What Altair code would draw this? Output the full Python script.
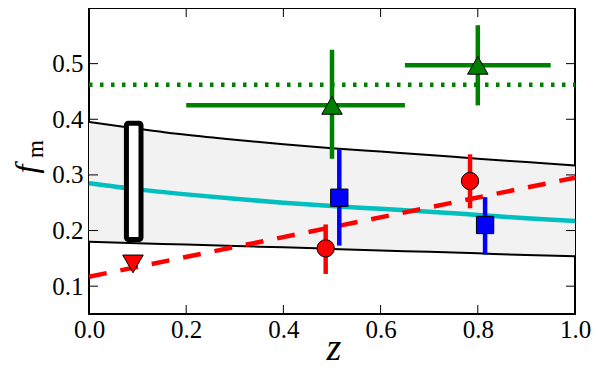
import altair as alt
import pandas as pd

# ---- data ----
curve_z = [0.0, 0.1, 0.2, 0.3, 0.4, 0.5, 0.6, 0.7, 0.8, 0.9, 1.0]
band_upper = [0.395, 0.383, 0.372, 0.363, 0.355, 0.348, 0.342, 0.336, 0.329, 0.323, 0.317]
band_lower = [0.180, 0.177, 0.175, 0.172, 0.170, 0.167, 0.164, 0.162, 0.159, 0.156, 0.154]
cyan_curve = [0.285, 0.274, 0.265, 0.257, 0.250, 0.244, 0.239, 0.234, 0.228, 0.222, 0.217]

red_line_z = [0.0, 1.0]
red_line_f = [0.117, 0.295]

green_level = 0.462

box_z = [0.077, 0.107]
box_f = [0.184, 0.393]

limit_z = [0.0905]
limit_f = [0.140]

tri_z = [0.50, 0.80]
tri_f = [0.425, 0.497]
tri_zlo = [0.20, 0.65]
tri_zhi = [0.65, 0.95]
tri_flo = [0.329, 0.425]
tri_fhi = [0.525, 0.569]

sq_z = [0.515, 0.815]
sq_f = [0.259, 0.210]
sq_flo = [0.173, 0.157]
sq_fhi = [0.346, 0.260]

circ_z = [0.487, 0.784]
circ_f = [0.168, 0.289]
circ_flo = [0.122, 0.240]
circ_fhi = [0.211, 0.337]

x_ticks = [0.0, 0.2, 0.4, 0.6, 0.8, 1.0]
y_ticks = [0.1, 0.2, 0.3, 0.4, 0.5]
x_minor_ticks = [0.2, 0.4, 0.6, 0.8]

y_label_main = "f"
y_label_sub = "m"
x_label = "z"

W, H = 486, 306
FONT = "Liberation Serif"
TFONT = "Liberation Serif"

xs = alt.Scale(domain=[0, 1], nice=False, zero=False)
ys = alt.Scale(domain=[0.05, 0.6], nice=False, zero=False)
xaxis = alt.Axis(values=x_ticks, format=".1f", title=None, ticks=False, domain=False, grid=False,
                 labelFont=FONT, labelFontSize=25, labelColor="black", labelPadding=3,
                 labelFlush=False, labelOverlap=False)
yaxis = alt.Axis(values=y_ticks, format=".1f", title=None, ticks=False, domain=False, grid=False,
                 labelFont=FONT, labelFontSize=25, labelColor="black", labelPadding=6,
                 labelOverlap=False)

def X(f):
    return alt.X(f, type="quantitative", scale=xs, axis=xaxis)

def Y(f):
    return alt.Y(f, type="quantitative", scale=ys, axis=yaxis)

curves = pd.DataFrame({"z": curve_z, "up": band_upper, "lo": band_lower, "cy": cyan_curve})

band = alt.Chart(curves).mark_area(color="#f2f2f2", opacity=1).encode(x=X("z"), y=Y("lo"), y2="up")
up_line = alt.Chart(curves).mark_line(color="black", strokeWidth=2, interpolate="monotone").encode(x=X("z"), y=Y("up"))
lo_line = alt.Chart(curves).mark_line(color="black", strokeWidth=2, interpolate="monotone").encode(x=X("z"), y=Y("lo"))
cy_line = alt.Chart(curves).mark_line(color="#00bfbf", strokeWidth=4.5, interpolate="monotone").encode(x=X("z"), y=Y("cy"))

box = alt.Chart(pd.DataFrame({"z0": [box_z[0]], "z1": [box_z[1]], "f0": [box_f[0]], "f1": [box_f[1]]})).mark_rect(
    fill="white", stroke="black", strokeWidth=5, cornerRadius=2, strokeJoin="round"
).encode(x=X("z0"), x2="z1", y=Y("f0"), y2="f1")

red_line = alt.Chart(pd.DataFrame({"z": red_line_z, "f": red_line_f})).mark_line(
    color="#ff0000", strokeWidth=4.5, strokeDash=[18, 14]
).encode(x=X("z"), y=Y("f"))

green_dot = alt.Chart(pd.DataFrame({"f": [green_level]})).mark_rule(
    color="#008000", strokeWidth=4.5, strokeDash=[3.5, 7.5]
).encode(y=Y("f"), x=alt.value(0), x2=alt.value(W))

tri = pd.DataFrame({"z": tri_z, "f": tri_f, "zlo": tri_zlo, "zhi": tri_zhi, "flo": tri_flo, "fhi": tri_fhi})
sq = pd.DataFrame({"z": sq_z, "f": sq_f, "flo": sq_flo, "fhi": sq_fhi})
circ = pd.DataFrame({"z": circ_z, "f": circ_f, "flo": circ_flo, "fhi": circ_fhi})

tri_h = alt.Chart(tri).mark_rule(color="#008000", strokeWidth=4.5).encode(x=X("zlo"), x2="zhi", y=Y("f"))
tri_v = alt.Chart(tri).mark_rule(color="#008000", strokeWidth=4.5).encode(x=X("z"), y=Y("flo"), y2="fhi")
tri_pt = alt.Chart(tri).mark_point(shape="triangle-up", filled=True, fill="#008000", stroke="black",
                                   strokeWidth=1, size=420, opacity=1).encode(x=X("z"), y=Y("f"))

sq_v = alt.Chart(sq).mark_rule(color="#0000ff", strokeWidth=4.5).encode(x=X("z"), y=Y("flo"), y2="fhi")
sq_pt = alt.Chart(sq).mark_point(shape="square", filled=True, fill="#0000ff", stroke="black",
                                 strokeWidth=1, size=300, opacity=1).encode(x=X("z"), y=Y("f"))

circ_v = alt.Chart(circ).mark_rule(color="#ff0000", strokeWidth=4.5).encode(x=X("z"), y=Y("flo"), y2="fhi")
circ_pt = alt.Chart(circ).mark_point(shape="circle", filled=True, fill="#ff0000", stroke="black",
                                     strokeWidth=1, size=300, opacity=1).encode(x=X("z"), y=Y("f"))

lim_pt = alt.Chart(pd.DataFrame({"z": limit_z, "f": limit_f})).mark_point(
    shape="triangle-down", filled=True, fill="#ff0000", stroke="black", strokeWidth=1, size=420, opacity=1
).encode(x=X("z"), y=Y("f"))

yt = pd.DataFrame({"t": y_ticks})
xt = pd.DataFrame({"t": x_minor_ticks})
tick_l = alt.Chart(yt).mark_rule(color="black", strokeWidth=1).encode(y=Y("t"), x=alt.value(0), x2=alt.value(9))
tick_r = alt.Chart(yt).mark_rule(color="black", strokeWidth=1).encode(y=Y("t"), x=alt.value(W - 9), x2=alt.value(W))
tick_b = alt.Chart(xt).mark_rule(color="black", strokeWidth=1).encode(x=X("t"), y=alt.value(H - 9), y2=alt.value(H))
tick_t = alt.Chart(xt).mark_rule(color="black", strokeWidth=1).encode(x=X("t"), y=alt.value(0), y2=alt.value(9))

lab_f = alt.Chart(pd.DataFrame({"s": [y_label_main]})).mark_text(
    font=TFONT, fontStyle="italic", fontSize=32, angle=270, align="center", baseline="alphabetic", color="black"
).encode(text="s:N", x=alt.value(-52), y=alt.value(161))
lab_m = alt.Chart(pd.DataFrame({"s": [y_label_sub]})).mark_text(
    font=TFONT, fontSize=23, angle=270, align="center", baseline="alphabetic", color="black"
).encode(text="s:N", x=alt.value(-46), y=alt.value(141))
lab_z = alt.Chart(pd.DataFrame({"s": [x_label]})).mark_text(
    font=TFONT, fontStyle="italic", fontSize=38, align="center", baseline="alphabetic", color="black"
).encode(text="s:N", x=alt.value(245), y=alt.value(352))

chart = alt.layer(
    band, up_line, lo_line, cy_line, box, red_line, green_dot,
    tri_h, tri_v, sq_v, circ_v, tri_pt, sq_pt, circ_pt, lim_pt,
    tick_l, tick_r, tick_b, tick_t, lab_f, lab_m, lab_z
).properties(
    width=W, height=H,
    autosize=alt.AutoSizeParams(type="none"),
    padding={"left": 81, "top": 0, "right": 17, "bottom": 56},
    background="white",
).configure_view(stroke="black", strokeWidth=2)

chart.save("out.html", embed_options={"renderer": "svg", "actions": False})
